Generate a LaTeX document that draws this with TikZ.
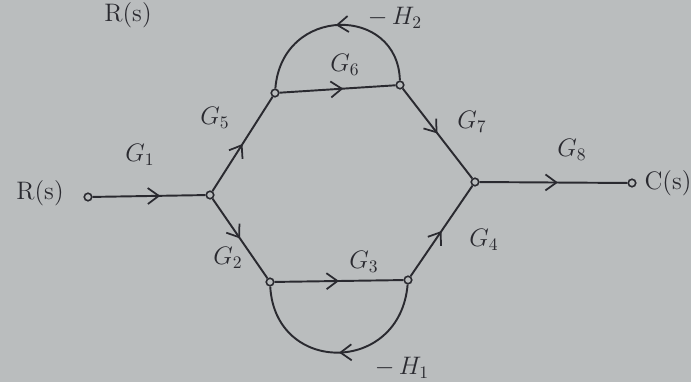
\documentclass[tikz,border=0pt]{standalone}
\usetikzlibrary{arrows.meta,decorations.markings}
\definecolor{paper}{RGB}{186,189,190}
\definecolor{ink}{RGB}{42,42,48}
\tikzset{
  sfnode/.style={circle,draw=ink,fill=paper,line width=0.9pt,inner sep=0pt,minimum size=0.15cm},
  branch/.style={draw=ink,line width=1.1pt,postaction={decorate},
    decoration={markings,mark=at position #1 with {\arrow{Straight Barb[length=2.2mm,width=3.2mm,line width=1pt]}}}},
  branch/.default=0.53,
  lbl/.style={text=ink,font=\Large,inner sep=1pt}
}
\begin{document}
\begin{tikzpicture}[x=0.02cm,y=-0.02cm]
\fill[paper] (0,0) rectangle (691,382);
\useasboundingbox (0,0) rectangle (691,382);
% nodes
\node[sfnode] (r) at (88,197) {};
\node[sfnode] (a) at (210,195) {};
\node[sfnode] (b) at (275,93) {};
\node[sfnode] (c) at (400,85) {};
\node[sfnode] (d) at (475,182) {};
\node[sfnode] (e) at (632,183) {};
\node[sfnode] (f) at (270,282) {};
\node[sfnode] (g) at (408,280) {};
% branches
\draw[branch=0.6] (r) -- (a);
\draw[branch=0.5] (a) -- (b);
\draw[branch=0.55] (b) -- (c);
\draw[branch=0.5] (c) -- (d);
\draw[branch=0.5] (a) -- (f);
\draw[branch=0.5] (f) -- (g);
\draw[branch=0.5] (g) -- (d);
\draw[branch=0.53] (d) -- (e);
\draw[branch=0.5] (c) .. controls (398,5) and (282,5) .. (b);
\draw[branch=0.5] (g) .. controls (400,375) and (275,375) .. (f);
% labels
\node[lbl] (lr) at (40,193) {R(s)};
\node[lbl] (lc) at (668,183) {C(s)};
\node[lbl] (ltop) at (128,15) {R(s)};
\node[lbl] (l1) at (140,155) {$G_1$};
\node[lbl] (l5) at (215,118) {$G_5$};
\node[lbl] (l6) at (345,65) {$G_6$};
\node[lbl] (lh2) at (395,18) {$-\,H_2$};
\node[lbl] (l7) at (472,122) {$G_7$};
\node[lbl] (l8) at (572,150) {$G_8$};
\node[lbl] (l2) at (228,258) {$G_2$};
\node[lbl] (l3) at (364,262) {$G_3$};
\node[lbl] (l4) at (484,240) {$G_4$};
\node[lbl] (lh1) at (402,368) {$-\,H_1$};
\end{tikzpicture}
\end{document}
